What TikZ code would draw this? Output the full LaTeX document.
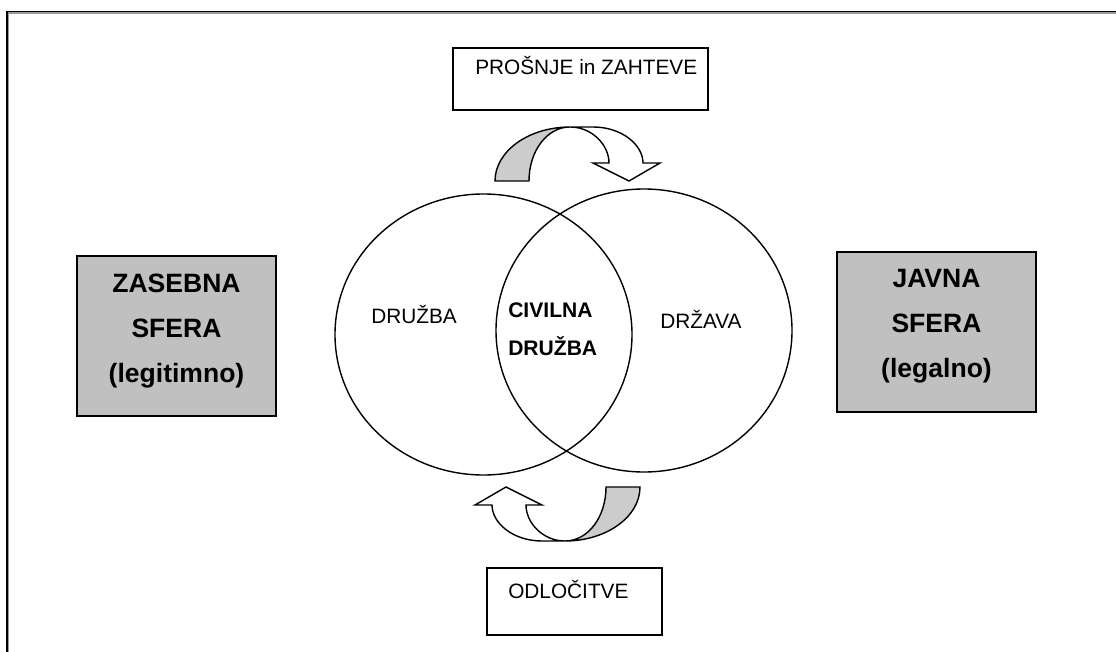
\documentclass[tikz,border=0pt]{standalone}
\usepackage{fontspec}
\setmainfont{Liberation Sans}
\usetikzlibrary{shadows}
\definecolor{boxgray}{RGB}{192,192,192}
\definecolor{bandgray}{RGB}{204,204,204}
\tikzset{
  frameline/.style={line width=1.1pt},
  plainbox/.style={draw=black, line width=1.1pt, fill=white, drop shadow={shadow xshift=0.9pt, shadow yshift=-0.9pt, fill=black!45, opacity=1}},
  graybox/.style={draw=black, line width=1.1pt, fill=boxgray, drop shadow={shadow xshift=0.9pt, shadow yshift=-0.9pt, fill=black!45, opacity=1}},
  sphere/.style={draw=black, line width=1.05pt},
  band/.style={draw=black, line width=1.05pt, line join=miter},
  txt/.style={inner sep=0pt, font=\fontsize{15.6}{18}\selectfont},
  btxt/.style={inner sep=0pt, font=\fontsize{15.8}{18}\selectfont\bfseries},
  bigtxt/.style={inner sep=0pt, font=\fontsize{19.9}{22}\selectfont\bfseries},
}
\begin{document}
\begin{tikzpicture}[x=0.75pt, y=-0.75pt]
\useasboundingbox (0,0) rectangle (1116,652);
% outer frame (only top and left edges visible)
\draw[black!40, line width=0.8pt] (8.5,652) -- (8.5,13) -- (1116,13);
\draw[frameline] (7,652) -- (7,11.5) -- (1116,11.5);

% top box
\draw[plainbox] (453,48) rectangle (708,110);
\node[txt, anchor=base west] (req) at (475,75) {PROŠNJE in ZAHTEVE};

% bottom box
\draw[plainbox] (487,568) rectangle (662,635);
\node[txt, anchor=base west] (dec) at (508,598) {ODLOČITVE};

% side boxes
\draw[graybox] (77,256) rectangle (276,416);
\node[bigtxt, anchor=base] (zs1) at (176.5,292) {ZASEBNA};
\node[bigtxt, anchor=base] (zs2) at (176.5,337) {SFERA};
\node[bigtxt, anchor=base] (zs3) at (176.5,382) {(legitimno)};

\draw[graybox] (837,252) rectangle (1036,412);
\node[bigtxt, anchor=base] (js1) at (936.5,287) {JAVNA};
\node[bigtxt, anchor=base] (js2) at (936.5,332) {SFERA};
\node[bigtxt, anchor=base] (js3) at (936.5,377) {(legalno)};

% circles
\draw[sphere] (483.5,334.5) ellipse [x radius=148.5, y radius=140.5];
\draw[sphere] (644,330.5) ellipse [x radius=148, y radius=141.5];
\node[txt, anchor=base west] (soc) at (371,323) {DRUŽBA};
\node[btxt, anchor=base west] (civ1) at (508,317) {CIVILNA};
\node[btxt, anchor=base west] (civ2) at (508,355) {DRUŽBA};
\node[txt, anchor=base west] (state) at (660,328) {DRŽAVA};

% top curved arrow
\draw[band, fill=bandgray] (495,181) -- (529,181) .. controls (529,151) and (547,127) .. (570,127)
  .. controls (529,127) and (495,151) .. (495,181) -- cycle;
\draw[band, fill=white] (570,127) -- (593,127) .. controls (622,127) and (643,145) .. (643,163)
  -- (660,163) -- (629,181) -- (593,163) -- (609,163) .. controls (609,145) and (592,127) .. (570,127) -- cycle;

% bottom curved arrow (top one turned half round)
\begin{scope}[rotate around={180:(567.5,334)}]
\draw[band, fill=bandgray] (495,181) -- (529,181) .. controls (529,151) and (547,127) .. (570,127)
  .. controls (529,127) and (495,151) .. (495,181) -- cycle;
\draw[band, fill=white] (570,127) -- (593,127) .. controls (622,127) and (643,145) .. (643,163)
  -- (660,163) -- (629,181) -- (593,163) -- (609,163) .. controls (609,145) and (592,127) .. (570,127) -- cycle;
\end{scope}
\end{tikzpicture}
\end{document}
